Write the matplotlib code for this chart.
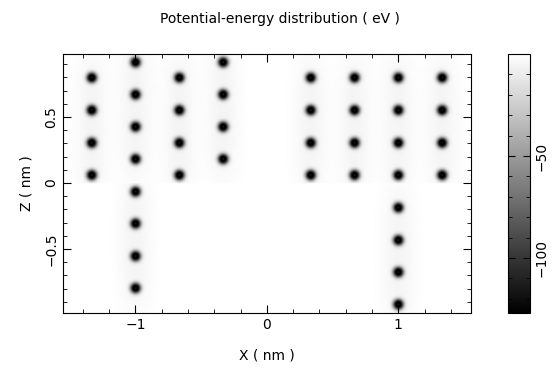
import numpy as np
import matplotlib
matplotlib.use('Agg')
import matplotlib.pyplot as plt
from matplotlib.ticker import MultipleLocator, FuncFormatter

# atom columns (nm)
x_cols = [-4/3, -1.0, -2/3, -1/3, 1/3, 2/3, 1.0, 4/3]
z_a = [0.80, 0.553, 0.305, 0.06]                      # staggered layers
z_b = [0.917, 0.672, 0.427, 0.182]                    # shifted layers
z_low_left = [-0.066, -0.308, -0.555, -0.798]         # column at x = -1
z_low_right = [-0.187, -0.434, -0.677, -0.922]        # column at x = 1

upper_atoms = [(-4/3, z) for z in z_a] + [(-1.0, z) for z in z_b] + \
              [(-2/3, z) for z in z_a] + [(-1/3, z) for z in z_b] + \
              [(x, z) for x in x_cols[4:] for z in z_a]
lower_atoms = [(-1.0, z) for z in z_low_left] + [(1.0, z) for z in z_low_right]

v_min, v_max = -127, 0
cb_ticks = [-100, -50]

# Potential field on a grid
xs = np.linspace(-1.55, 1.55, 621)
zs = np.linspace(-0.985, 0.977, 393)
X, Z = np.meshgrid(xs, zs)


def field(atoms):
    V = np.zeros_like(X)
    for ax_, az_ in atoms:
        r = np.hypot(X - ax_, Z - az_)
        V += -127 * np.exp(-((r - 0.014) / 0.028) ** 2)
        V += -3.0 * np.exp(-((X - ax_) / 0.12) ** 2) * np.exp(-((Z - az_) / 0.25) ** 2)
    return V


V = np.where(Z >= 0, field(upper_atoms), field(lower_atoms))
V = np.clip(V, v_min, v_max)


def fmt(v, pos):
    return ('%g' % v).replace('-', '\u2212')


fig = plt.figure(figsize=(5.6, 3.73), dpi=100)
ax = fig.add_axes([0.1125, 0.161, 0.728, 0.694])
im = ax.imshow(V, extent=[xs[0], xs[-1], zs[0], zs[-1]], origin='lower',
               cmap='gray', vmin=v_min, vmax=v_max, aspect='auto',
               interpolation='bilinear')
ax.set_xlim(-1.55, 1.55)
ax.set_ylim(-0.985, 0.977)

ax.xaxis.set_major_locator(MultipleLocator(1))
ax.xaxis.set_minor_locator(MultipleLocator(0.2))
ax.yaxis.set_major_locator(MultipleLocator(0.5))
ax.yaxis.set_minor_locator(MultipleLocator(0.1))
ax.xaxis.set_major_formatter(FuncFormatter(fmt))
ax.yaxis.set_major_formatter(FuncFormatter(fmt))
ax.tick_params(which='both', direction='in', top=True, right=True, labelsize=10)
ax.tick_params(which='major', length=6)
ax.tick_params(which='minor', length=3)
for lbl in ax.get_yticklabels():
    lbl.set_rotation(90)
    lbl.set_va('center')
ax.set_xlabel('X ( nm )', fontsize=10, labelpad=12)
ax.set_ylabel('Z ( nm )', fontsize=10, labelpad=8)
fig.text(0.5, 0.95, 'Potential-energy distribution ( eV )', ha='center',
         va='center', fontsize=10)

cax = fig.add_axes([0.907, 0.161, 0.039, 0.694])
cb = fig.colorbar(im, cax=cax, ticks=cb_ticks)
cb.ax.yaxis.set_minor_locator(MultipleLocator(10))
cb.ax.yaxis.set_major_formatter(FuncFormatter(fmt))
cb.ax.tick_params(which='both', direction='in', left=True, right=True,
                  labelsize=10, colors='black')
cb.ax.tick_params(which='major', length=5)
cb.ax.tick_params(which='minor', length=3)
for lbl in cb.ax.get_yticklabels():
    lbl.set_rotation(90)
    lbl.set_va('center')

fig.savefig('out.png', dpi=100)
